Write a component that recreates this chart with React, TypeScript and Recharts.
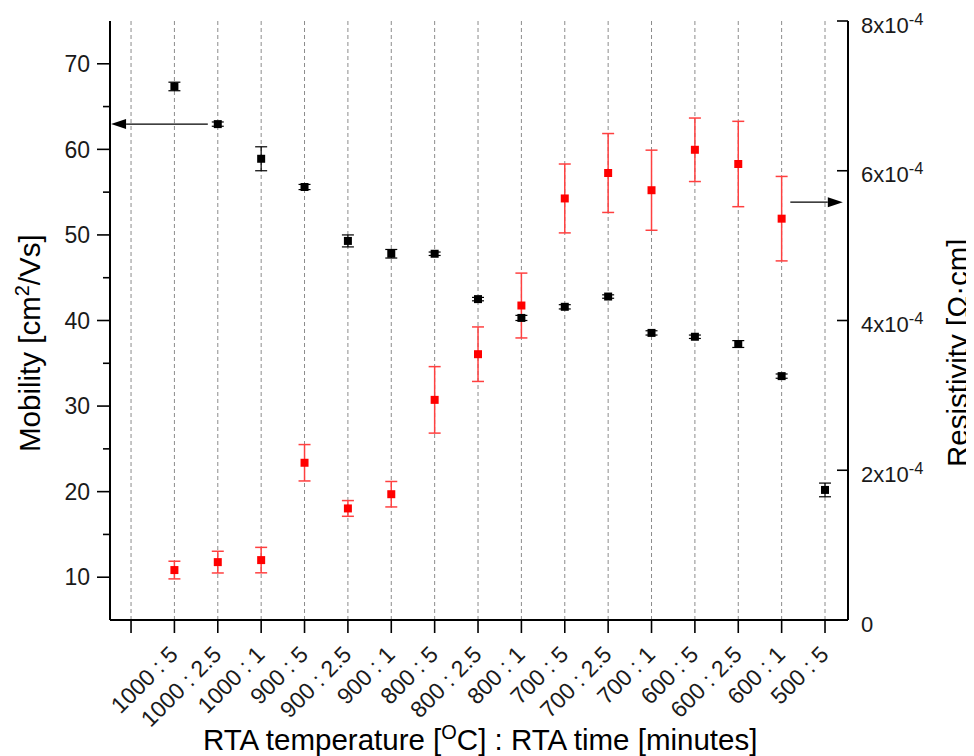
import React from 'react';
import {
  ComposedChart,
  Scatter,
  XAxis,
  YAxis,
  CartesianGrid,
  ErrorBar,
  ReferenceLine,
  Customized,
} from 'recharts';

const FONT = '"Liberation Sans", Arial, Helvetica, sans-serif';

// Category tick labels (position 0 is an unlabeled tick)
const categoryLabels = [
  '',
  '1000 : 5',
  '1000 : 2.5',
  '1000 : 1',
  '900 : 5',
  '900 : 2.5',
  '900 : 1',
  '800 : 5',
  '800 : 2.5',
  '800 : 1',
  '700 : 5',
  '700 : 2.5',
  '700 : 1',
  '600 : 5',
  '600 : 2.5',
  '600 : 1',
  '500 : 5',
];
const categoryPositions = categoryLabels.map((_, i) => i);

// Mobility [cm^2/Vs] (left axis), one per labeled category
const mobility = [67.35, 62.95, 58.9, 55.6, 49.3, 47.8, 47.8, 42.5, 40.3, 41.6, 42.8, 38.55, 38.1, 37.25, 33.5, 20.2];
const mobilityErr = [0.5, 0.25, 1.4, 0.3, 0.7, 0.5, 0.2, 0.2, 0.3, 0.25, 0.2, 0.25, 0.2, 0.4, 0.25, 0.8];

// Resistivity in units of 1e-4 Ohm.cm (right axis)
const resistivity = [0.667, 0.773, 0.8, 2.1, 1.49, 1.68, 2.94, 3.55, 4.2, 5.63, 5.97, 5.74, 6.28, 6.09, 5.36];
const resistivityErr = [0.118, 0.145, 0.17, 0.243, 0.105, 0.17, 0.444, 0.364, 0.433, 0.46, 0.527, 0.535, 0.424, 0.57, 0.564];

const leftTicks = [10, 15, 20, 25, 30, 35, 40, 45, 50, 55, 60, 65, 70];
const rightTicks = [0, 2e-4, 4e-4, 6e-4, 8e-4];

// Annotation arrows (data units)
const leftArrow = [{ x: 1.77, y: 62.95 }, { x: -0.46, y: 62.95 }];
const rightArrow = [{ x: 15.2, y: 5.58e-4 }, { x: 16.41, y: 5.58e-4 }];

const mobilityData = mobility.map((v, i) => ({ x: i + 1, y: v, err: mobilityErr[i] }));
const resistivityData = resistivity.map((v, i) => ({
  x: i + 1,
  y: v * 1e-4,
  err: resistivityErr[i] * 1e-4,
}));

const TICK_FONT = 23;
const TITLE_FONT = 29.5;

const LeftTick = (props: any) => {
  const { x, y, payload } = props;
  const major = payload.value % 10 === 0;
  return (
    <g>
      <line x1={x} x2={x - (major ? 13 : 7)} y1={y} y2={y} stroke="#000" strokeWidth={1.6} />
      {major && (
        <text x={x - 20} y={y} dy="0.36em" textAnchor="end" fontSize={TICK_FONT} fontFamily={FONT} fill="#1a1a1a">
          {payload.value}
        </text>
      )}
    </g>
  );
};

const RightTick = (props: any) => {
  const { x, y, payload } = props;
  const m = Math.round(payload.value * 1e4);
  return (
    <g>
      <line x1={x} x2={x - 11} y1={y} y2={y} stroke="#000" strokeWidth={1.6} />
      <text x={x + 13} y={y} dy={11.5} textAnchor="start" fontSize={22} fontFamily={FONT} fill="#1a1a1a">
        {m === 0 ? (
          '0'
        ) : (
          <>
            {`${m}x10`}
            <tspan dy={-8} fontSize={16.5}>
              -4
            </tspan>
          </>
        )}
      </text>
    </g>
  );
};

const BottomTick = (props: any) => {
  const { x, y, payload } = props;
  const label = categoryLabels[payload.value] || '';
  return (
    <g>
      <line x1={x} x2={x} y1={y} y2={y + 13} stroke="#000" strokeWidth={1.6} />
      {label && (
        <text
          x={0}
          y={0}
          transform={`translate(${x + 5},${y + 36}) rotate(-45)`}
          textAnchor="end"
          fontSize={TICK_FONT}
          fontFamily={FONT}
          fill="#1a1a1a"
        >
          {label}
        </text>
      )}
    </g>
  );
};

const TopTick = (props: any) => {
  const { x, y } = props;
  return <line x1={x} x2={x} y1={y} y2={y + 12} stroke="#000" strokeWidth={1.6} />;
};

const ArrowShape = (props: any) => {
  const { x1, y1, x2, y2 } = props;
  const dir = Math.sign(x2 - x1) || 1;
  const head = 15;
  const half = 5;
  return (
    <g>
      <line x1={x1} y1={y1} x2={x2 - dir * head} y2={y2} stroke="#000" strokeWidth={1.2} />
      <polygon
        points={`${x2},${y2} ${x2 - dir * head},${y2 - half} ${x2 - dir * head},${y2 + half}`}
        fill="#000"
      />
    </g>
  );
};

const Titles = () => (
  <g fontFamily={FONT} fill="#000">
    <text transform="translate(32,444) rotate(-90)" textAnchor="start" fontSize={TITLE_FONT}>
      Mobility [cm
      <tspan dy={-11} fontSize={20}>
        2
      </tspan>
      <tspan dy={11}>/Vs]</tspan>
    </text>
    <text transform="translate(960,459) rotate(-90)" textAnchor="start" fontSize={TITLE_FONT}>
      Resistivity [Ω·cm]
    </text>
    <text x={195} y={742} textAnchor="start" fontSize={TITLE_FONT}>
      RTA temperature [
      <tspan dy={-11} fontSize={20}>
        O
      </tspan>
      <tspan dy={11}>C] : RTA time [minutes]</tspan>
    </text>
  </g>
);

export default function App() {
  return (
    <ComposedChart
      width={966}
      height={748}
      margin={{ top: 13, right: 46, bottom: 36, left: 22 }}
      style={{ fontFamily: FONT }}
    >
      <CartesianGrid horizontal={false} strokeDasharray="4 3" stroke="#8c8c8c" yAxisId="left" />
      <XAxis
        type="number"
        dataKey="x"
        domain={[-0.485, 16.53]}
        ticks={categoryPositions}
        interval={0}
        height={100}
        tickSize={0}
        tickMargin={0}
        tickLine={false}
        tick={<BottomTick />}
        axisLine={{ stroke: '#000', strokeWidth: 2 }}
        allowDataOverflow
      />
      <XAxis
        xAxisId="top"
        orientation="top"
        type="number"
        dataKey="x"
        domain={[-0.485, 16.53]}
        ticks={categoryPositions}
        interval={0}
        height={0}
        tickSize={0}
        tickMargin={0}
        tickLine={false}
        tick={<TopTick />}
        axisLine={{ stroke: '#000', strokeWidth: 2 }}
        allowDataOverflow
      />
      <YAxis
        yAxisId="left"
        orientation="left"
        type="number"
        domain={[5, 75]}
        ticks={leftTicks}
        interval={0}
        width={80}
        tickSize={0}
        tickMargin={0}
        tickLine={false}
        tick={<LeftTick />}
        axisLine={{ stroke: '#000', strokeWidth: 2 }}
        allowDataOverflow
      />
      <YAxis
        yAxisId="right"
        orientation="right"
        type="number"
        domain={[0, 8e-4]}
        ticks={rightTicks}
        interval={0}
        width={80}
        tickSize={0}
        tickMargin={0}
        tickLine={false}
        tick={<RightTick />}
        axisLine={{ stroke: '#000', strokeWidth: 2 }}
        allowDataOverflow
      />
      <Scatter
        data={resistivityData}
        dataKey="y"
        yAxisId="right"
        fill="#ff0000"
        shape="square"
        isAnimationActive={false}
      >
        <ErrorBar dataKey="err" direction="y" width={6} stroke="#ff4040" strokeWidth={1.5} />
      </Scatter>
      <Scatter
        data={mobilityData}
        dataKey="y"
        yAxisId="left"
        fill="#000000"
        shape="square"
        isAnimationActive={false}
      >
        <ErrorBar dataKey="err" direction="y" width={6} stroke="#000" strokeWidth={1.2} />
      </Scatter>
      <ReferenceLine yAxisId="left" segment={leftArrow} shape={ArrowShape} ifOverflow="visible" />
      <ReferenceLine yAxisId="right" segment={rightArrow} shape={ArrowShape} ifOverflow="visible" />
      <Customized component={Titles} />
    </ComposedChart>
  );
}
